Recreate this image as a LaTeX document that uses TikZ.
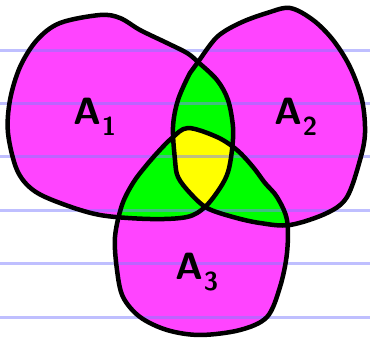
\documentclass[tikz,border=0pt]{standalone}
\usepackage{xcolor}
\usepackage{tikz}
\definecolor{blobpink}{HTML}{FF44FF}
\definecolor{blobgreen}{HTML}{00FF00}
\definecolor{blobyellow}{HTML}{FFFF00}
\definecolor{ruleblue}{HTML}{8080FF}

\def\setA{plot[smooth cycle, tension=0.55] coordinates {(100,15) (120,18) (140,30) (167,43) (187,53) (198,62) (217,80) (228,100) (233,127) (232,150) (228,172) (220,188) (205,207) (187,217) (150,219) (100,215) (60,203) (33,190) (17,170) (8,133) (10,100) (20,67) (37,40) (60,23)}}
\def\setB{plot[smooth cycle, tension=0.55] coordinates {(290,8) (313,20) (333,40) (350,67) (362,100) (365,133) (360,160) (347,197) (327,213) (290,225) (260,223) (233,217) (207,208) (190,193) (178,177) (175,160) (173,127) (178,100) (190,73) (198,62) (217,37) (240,23) (267,13)}}
\def\setC{plot[smooth cycle, tension=0.55] coordinates {(188,128) (217,137) (237,150) (253,167) (265,183) (277,197) (287,220) (287,253) (280,287) (267,317) (240,330) (200,335) (167,330) (140,317) (123,297) (117,270) (115,237) (122,205) (133,183) (145,167) (158,152) (172,138)}}

\begin{document}
\begin{tikzpicture}[x=1pt, y=-1pt,
    pen/.style={draw=black, line width=4.5pt, line join=round},
    setlabel/.style={font=\fontsize{38}{38}\selectfont\sffamily\bfseries, inner sep=0pt}]
  \useasboundingbox (0,0) rectangle (370,339);
  \fill[white] (0,0) rectangle (370,339);

  \fill[blobpink] \setA;
  \fill[blobpink] \setB;
  \fill[blobpink] \setC;
  \begin{scope}
    \clip \setA;
    \fill[blobgreen] \setB;
    \fill[blobgreen] \setC;
  \end{scope}
  \begin{scope}
    \clip \setB;
    \fill[blobgreen] \setC;
  \end{scope}
  \begin{scope}
    \clip \setA;
    \clip \setB;
    \fill[blobyellow] \setC;
  \end{scope}

  \foreach \y in {51,104,157,211,264,318}
    \draw[ruleblue, line width=3pt, opacity=.5] (0,\y) -- (370,\y);

  \draw[pen] \setA;
  \draw[pen] \setB;
  \draw[pen] \setC;

  \node[setlabel] (a1) at (95,117) {A\raisebox{-.3em}{\fontsize{26}{26}\selectfont 1}};
  \node[setlabel] (a2) at (296,117) {A\raisebox{-.3em}{\fontsize{26}{26}\selectfont 2}};
  \node[setlabel] (a3) at (197,272) {A\raisebox{-.3em}{\fontsize{26}{26}\selectfont 3}};
\end{tikzpicture}
\end{document}
